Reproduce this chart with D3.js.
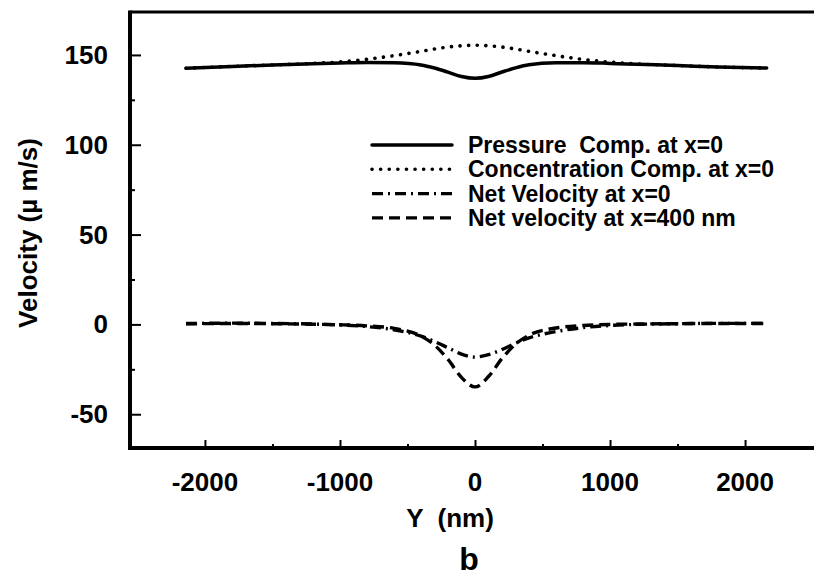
<!DOCTYPE html>
<html>
<head>
<meta charset="utf-8">
<script src="https://cdn.jsdelivr.net/npm/d3@7"></script>
<style>
body { margin: 0; background: #fff; }
text { font-family: "Liberation Sans", Arial, sans-serif; font-weight: bold; fill: #000; }
</style>
</head>
<body>
<script>
// positions along the channel (nm)
var yPos = [-2140, -1800, -1500, -1200, -1000, -800, -600, -400, -300, -200, -100, 0,
            100, 200, 300, 400, 600, 800, 1000, 1200, 1500, 1800, 2160];
var pressure = [142.6, 143.6, 144.4, 145.1, 145.5, 145.8, 145.6, 144.4, 142.7, 140.4, 138.0, 137.0,
                138.0, 140.5, 142.8, 144.5, 145.6, 145.7, 145.3, 144.8, 144.1, 143.3, 142.7];
var concentration = [142.6, 143.6, 144.4, 145.3, 146.1, 147.6, 149.6, 152.0, 153.3, 154.4, 155.1, 155.4,
                     155.1, 154.4, 153.3, 152.0, 149.6, 147.5, 146.0, 145.0, 144.1, 143.3, 142.7];
var netX0 = [0.5, 0.7, 0.5, 0.2, -0.3, -1.2, -3.0, -6.5, -9.5, -13.0, -16.5, -18.2,
             -16.8, -14.0, -10.5, -7.5, -4.0, -1.8, -0.6, 0.0, 0.4, 0.6, 0.6];
var netX400 = [0.3, 0.5, 0.4, 0.1, -0.2, -0.8, -2.2, -6.5, -11.5, -19.5, -29.5, -34.8,
               -29.0, -19.0, -11.0, -6.0, -2.0, -0.6, 0.0, 0.2, 0.4, 0.5, 0.5];

var seriesNames = ["Pressure  Comp. at x=0", "Concentration Comp. at x=0",
                   "Net Velocity at x=0", "Net velocity at x=400 nm"];
var xTicks = [-2000, -1000, 0, 1000, 2000];
var yTicks = [-50, 0, 50, 100, 150];

var width = 814, height = 579;
var margin = {left: 130, top: 12, bottom: 448, right: 820};

var svg = d3.select("body").append("svg")
    .attr("width", width)
    .attr("height", height);

var x = d3.scaleLinear().domain([-2555, 2555]).range([margin.left, margin.right]);
var y = d3.scaleLinear().domain([-68.8, 173.9]).range([margin.bottom, margin.top]);

// styles per series: solid, dotted, dash-dot, dashed
var styles = [
  {dash: null, w: 3.5, cap: "round"},
  {dash: "0.1,8.5", w: 3.6, cap: "round"},
  {dash: "11,5,2,5", w: 3.4, cap: "butt"},
  {dash: "11,6", w: 3.4, cap: "butt"}
];
var allSeries = [pressure, concentration, netX0, netX400];

var line = d3.line()
    .x(function(d, i) { return x(yPos[i]); })
    .y(function(d) { return y(d); })
    .curve(d3.curveMonotoneX);

allSeries.forEach(function(s, k) {
  svg.append("path")
    .attr("d", line(s))
    .attr("fill", "none")
    .attr("stroke", "#000")
    .attr("stroke-width", styles[k].w)
    .attr("stroke-linecap", styles[k].cap)
    .attr("stroke-dasharray", styles[k].dash);
});

// axes, ticks pointing inward
function tickStyle(g) { g.select(".domain").remove(); g.selectAll("line").attr("stroke-width", 2); }

svg.append("g").attr("transform", "translate(0," + margin.bottom + ")")
  .call(d3.axisTop(x).tickValues(xTicks).tickSize(8).tickFormat(""))
  .call(tickStyle);
svg.append("g").attr("transform", "translate(0," + margin.bottom + ")")
  .call(d3.axisTop(x).tickValues([-1500, -500, 500, 1500]).tickSize(4).tickFormat(""))
  .call(tickStyle);

svg.append("g").attr("transform", "translate(" + margin.left + ",0)")
  .call(d3.axisRight(y).tickValues(yTicks).tickSize(11).tickFormat(""))
  .call(tickStyle);
svg.append("g").attr("transform", "translate(" + margin.left + ",0)")
  .call(d3.axisRight(y).tickValues([-25, 25, 75, 125]).tickSize(5).tickFormat(""))
  .call(tickStyle);

// frame
svg.append("line").attr("x1", margin.left).attr("x2", width).attr("y1", margin.top).attr("y2", margin.top)
  .attr("stroke", "#000").attr("stroke-width", 3);
svg.append("line").attr("x1", margin.left).attr("x2", margin.left).attr("y1", margin.top - 1.5).attr("y2", margin.bottom + 2)
  .attr("stroke", "#000").attr("stroke-width", 4);
svg.append("line").attr("x1", margin.left - 2).attr("x2", width).attr("y1", margin.bottom).attr("y2", margin.bottom)
  .attr("stroke", "#000").attr("stroke-width", 4);

// tick labels
svg.selectAll(".xlab").data(xTicks).enter().append("text")
  .attr("x", function(d) { return x(d); })
  .attr("y", 491)
  .attr("text-anchor", "middle")
  .attr("font-size", "26px")
  .text(function(d) { return d; });

svg.selectAll(".ylab").data(yTicks).enter().append("text")
  .attr("x", 108)
  .attr("y", function(d) { return y(d) + 9; })
  .attr("text-anchor", "end")
  .attr("font-size", "26px")
  .text(function(d) { return d; });

// axis titles
svg.append("text")
  .attr("x", 450).attr("y", 527)
  .attr("text-anchor", "middle")
  .attr("font-size", "26px")
  .attr("xml:space", "preserve")
  .text("Y  (nm)");

svg.append("text")
  .attr("transform", "translate(37,233) rotate(-90)")
  .attr("text-anchor", "middle")
  .attr("font-size", "26px")
  .text("Velocity (\u00b5 m/s)");

svg.append("text")
  .attr("x", 469).attr("y", 570)
  .attr("text-anchor", "middle")
  .attr("font-size", "32px")
  .text("b");

// legend
var legend = svg.selectAll(".leg").data(seriesNames).enter().append("g")
  .attr("transform", function(d, i) { return "translate(372," + (145 + i * 24.3) + ")"; });

legend.append("line")
  .attr("x1", 0).attr("x2", 80).attr("y1", 0).attr("y2", 0)
  .attr("stroke", "#000")
  .attr("stroke-width", function(d, i) { return styles[i].w; })
  .attr("stroke-linecap", function(d, i) { return styles[i].cap; })
  .attr("stroke-dasharray", function(d, i) { return styles[i].dash; });

legend.append("text")
  .attr("x", 96).attr("y", 8)
  .attr("font-size", "23px")
  .attr("xml:space", "preserve")
  .text(function(d) { return d; });
</script>
</body>
</html>
